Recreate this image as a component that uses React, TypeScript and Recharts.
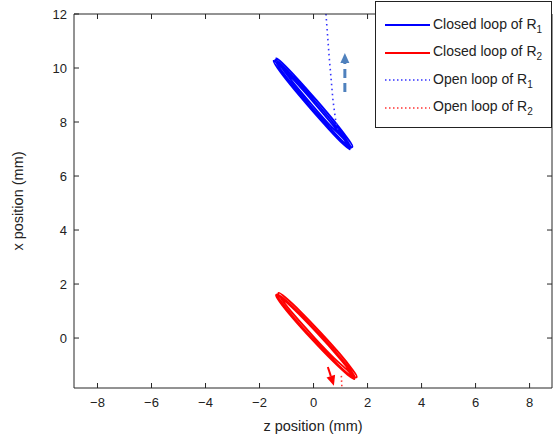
import React from 'react';
import { ComposedChart, Line, XAxis, YAxis } from 'recharts';

type Pt = { z: number; x: number };

const zTicks = [-8, -6, -4, -2, 0, 2, 4, 6, 8];
const xTicks = [0, 2, 4, 6, 8, 10, 12];
const zDomain: [number, number] = [-8.87, 8.83];
const xDomain: [number, number] = [-1.85, 12];

// closed loop, R1 (blue, solid) - three narrow passes
const closedR1: Pt[] = [
  { z: 1.40, x: 7.02 }, { z: 1.26, x: 7.28 }, { z: 0.78, x: 7.91 }, { z: 0.08, x: 8.74 },
  { z: -0.64, x: 9.55 }, { z: -1.19, x: 10.12 }, { z: -1.42, x: 10.3 }, { z: -1.28, x: 10.04 },
  { z: -0.8, x: 9.41 }, { z: -0.1, x: 8.58 }, { z: 0.62, x: 7.77 }, { z: 1.17, x: 7.2 },
  { z: 1.44, x: 7.08 }, { z: 1.3, x: 7.34 }, { z: 0.82, x: 7.97 }, { z: 0.12, x: 8.8 },
  { z: -0.6, x: 9.61 }, { z: -1.15, x: 10.18 }, { z: -1.38, x: 10.36 }, { z: -1.24, x: 10.1 },
  { z: -0.76, x: 9.47 }, { z: -0.06, x: 8.64 }, { z: 0.66, x: 7.83 }, { z: 1.21, x: 7.26 },
  { z: 1.34, x: 6.99 }, { z: 1.2, x: 7.25 }, { z: 0.72, x: 7.88 }, { z: 0.02, x: 8.71 },
  { z: -0.7, x: 9.52 }, { z: -1.25, x: 10.09 }, { z: -1.48, x: 10.27 }, { z: -1.34, x: 10.01 },
  { z: -0.86, x: 9.38 }, { z: -0.16, x: 8.55 }, { z: 0.56, x: 7.74 }, { z: 1.11, x: 7.17 },
  { z: 1.34, x: 6.99 },
];

// closed loop, R2 (red, solid)
const closedR2: Pt[] = [
  { z: 1.55, x: -1.5 }, { z: 1.41, x: -1.24 }, { z: 0.92, x: -0.63 }, { z: 0.21, x: 0.16 },
  { z: -0.53, x: 0.93 }, { z: -1.1, x: 1.46 }, { z: -1.35, x: 1.62 }, { z: -1.21, x: 1.36 },
  { z: -0.72, x: 0.75 }, { z: -0.01, x: -0.04 }, { z: 0.73, x: -0.81 }, { z: 1.3, x: -1.34 },
  { z: 1.6, x: -1.45 }, { z: 1.46, x: -1.19 }, { z: 0.97, x: -0.58 }, { z: 0.26, x: 0.21 },
  { z: -0.48, x: 0.98 }, { z: -1.05, x: 1.51 }, { z: -1.3, x: 1.67 }, { z: -1.16, x: 1.41 },
  { z: -0.67, x: 0.8 }, { z: 0.04, x: 0.01 }, { z: 0.78, x: -0.76 }, { z: 1.35, x: -1.29 },
  { z: 1.51, x: -1.52 }, { z: 1.37, x: -1.26 }, { z: 0.88, x: -0.65 }, { z: 0.17, x: 0.14 },
  { z: -0.57, x: 0.91 }, { z: -1.14, x: 1.44 }, { z: -1.39, x: 1.6 }, { z: -1.25, x: 1.34 },
  { z: -0.76, x: 0.73 }, { z: -0.05, x: -0.06 }, { z: 0.69, x: -0.83 }, { z: 1.26, x: -1.36 },
  { z: 1.51, x: -1.52 },
];

// open loop, R1 (blue, dotted)
const openR1: Pt[] = [
  { z: 0.46, x: 12.0 }, { z: 0.52, x: 11.2 }, { z: 0.58, x: 10.4 }, { z: 0.65, x: 9.6 },
  { z: 0.72, x: 8.8 }, { z: 0.82, x: 8.05 }, { z: 0.9, x: 7.7 },
];

// open loop, R2 (red, dotted)
const openR2: Pt[] = [
  { z: 1.03, x: -1.4 }, { z: 1.05, x: -1.85 },
];

// direction arrows
const arrowR1: Pt[] = [{ z: 1.16, x: 9.11 }, { z: 1.16, x: 10.19 }];
const arrowR2: Pt[] = [{ z: 0.53, x: -1.07 }, { z: 0.64, x: -1.41 }];

const legendItems = [
  { label: 'Closed loop of R', sub: '1', color: '#0000ff', dash: undefined },
  { label: 'Closed loop of R', sub: '2', color: '#ff0000', dash: undefined },
  { label: 'Open loop of R', sub: '1', color: '#3333ff', dash: '1.5 2.5' },
  { label: 'Open loop of R', sub: '2', color: '#ff3333', dash: '1.5 2.5' },
];

const FONT = '"Liberation Sans", Arial, sans-serif';
const AXIS = '#262626';

const fmt = (v: number) => (v < 0 ? `\u2212${Math.abs(v)}` : `${v}`);

function BottomTick({ x, y, payload }: any) {
  return (
    <g>
      <line x1={x} y1={y} x2={x} y2={y - 5} stroke={AXIS} />
      <text x={x} y={y + 19} textAnchor="middle" fontSize={13} fill="#222" fontFamily={FONT}>
        {fmt(payload.value)}
      </text>
    </g>
  );
}

function TopTick({ x, y }: any) {
  return <line x1={x} y1={y} x2={x} y2={y + 5} stroke={AXIS} />;
}

function LeftTick({ x, y, payload }: any) {
  return (
    <g>
      <line x1={x} y1={y} x2={x + 5} y2={y} stroke={AXIS} />
      <text x={x - 7} y={y + 5} textAnchor="end" fontSize={13} fill="#222" fontFamily={FONT}>
        {fmt(payload.value)}
      </text>
    </g>
  );
}

function RightTick({ x, y }: any) {
  return <line x1={x} y1={y} x2={x - 5} y2={y} stroke={AXIS} />;
}

function XTitle({ viewBox }: any) {
  const { x, y, width, height } = viewBox;
  return (
    <text x={x + width / 2} y={y + height - 4} textAnchor="middle" fontSize={14.5} fill="#222" fontFamily={FONT}>
      z position (mm)
    </text>
  );
}

function YTitle({ viewBox }: any) {
  const { x, y, height } = viewBox;
  const cx = x + 23;
  const cy = y + height / 2;
  return (
    <text x={cx} y={cy} transform={`rotate(-90 ${cx} ${cy})`} textAnchor="middle" fontSize={14.5} fill="#222" fontFamily={FONT}>
      x position (mm)
    </text>
  );
}

// draws a filled head on the last point of an arrow series
function arrowHead(pts: Pt[], color: string) {
  return (props: any) => {
    const { cx, cy, index } = props;
    if (index !== pts.length - 1) return <g key={`a-${index}`} />;
    const a = pts[index - 1];
    const b = pts[index];
    const dx = b.z - a.z;
    const dy = -(b.x - a.x);
    const len = Math.hypot(dx, dy) || 1;
    const ux = dx / len;
    const uy = dy / len;
    const tip = [cx + ux * 10, cy + uy * 10];
    const l = [cx - uy * 4.5, cy + ux * 4.5];
    const r = [cx + uy * 4.5, cy - ux * 4.5];
    return <polygon key={`a-${index}`} points={`${tip} ${l} ${r}`} fill={color} stroke="none" />;
  };
}

function LegendBox() {
  return (
    <div
      style={{
        position: 'absolute',
        left: 375,
        top: 1,
        width: 175,
        height: 125,
        border: '1px solid #222',
        background: '#fff',
        fontFamily: FONT,
        fontSize: 14,
        color: '#222',
      }}
    >
      {legendItems.map((it, i) => (
        <div key={i} style={{ position: 'absolute', left: 8, top: 13 + i * 27.5, height: 20, display: 'flex', alignItems: 'center' }}>
          <svg width={47} height={6} style={{ display: 'block' }}>
            <line x1={1} y1={3} x2={46} y2={3} stroke={it.color} strokeWidth={it.dash ? 1.5 : 2} strokeDasharray={it.dash} />
          </svg>
          <span style={{ marginLeft: 2, whiteSpace: 'nowrap' }}>
            {it.label}
            <sub style={{ fontSize: 10 }}>{it.sub}</sub>
          </span>
        </div>
      ))}
    </div>
  );
}

export default function App() {
  return (
    <div style={{ position: 'absolute', left: 0, top: 0, width: 553, height: 435, background: '#fff' }}>
      <ComposedChart width={553} height={435} margin={{ top: 13, right: 0, bottom: 0, left: 0 }}>
        <XAxis
          dataKey="z"
          type="number"
          domain={zDomain}
          ticks={zTicks}
          allowDataOverflow
          interval={0}
          height={47}
          tickSize={0}
          tickMargin={0}
          tickLine={false}
          tick={<BottomTick />}
          axisLine={{ stroke: AXIS }}
          label={<XTitle />}
        />
        <XAxis
          xAxisId="top"
          orientation="top"
          dataKey="z"
          type="number"
          domain={zDomain}
          ticks={zTicks}
          allowDataOverflow
          interval={0}
          height={1}
          tickSize={0}
          tickMargin={0}
          tickLine={false}
          tick={<TopTick />}
          axisLine={{ stroke: AXIS }}
        />
        <YAxis
          type="number"
          domain={xDomain}
          ticks={xTicks}
          allowDataOverflow
          interval={0}
          width={74}
          tickSize={0}
          tickMargin={0}
          tickLine={false}
          tick={<LeftTick />}
          axisLine={{ stroke: AXIS }}
          label={<YTitle />}
        />
        <YAxis
          yAxisId="right"
          orientation="right"
          type="number"
          domain={xDomain}
          ticks={xTicks}
          allowDataOverflow
          interval={0}
          width={1}
          tickSize={0}
          tickMargin={0}
          tickLine={false}
          tick={<RightTick />}
          axisLine={{ stroke: AXIS }}
        />
        <Line data={closedR1} type="natural" dataKey="x" stroke="#0000ff" strokeWidth={1.8} strokeLinejoin="round" dot={false} isAnimationActive={false} />
        <Line data={closedR2} type="natural" dataKey="x" stroke="#ff0000" strokeWidth={1.8} strokeLinejoin="round" dot={false} isAnimationActive={false} />
        <Line data={openR1} dataKey="x" stroke="#3333ff" strokeWidth={1.6} strokeDasharray="1.5 3.5" dot={false} isAnimationActive={false} />
        <Line data={openR2} dataKey="x" stroke="#ff3333" strokeWidth={1.6} strokeDasharray="1.5 3" dot={false} isAnimationActive={false} />
        <Line data={arrowR1} dataKey="x" stroke="#4f81bd" strokeWidth={3} strokeDasharray="9 5" dot={arrowHead(arrowR1, '#4f81bd')} isAnimationActive={false} />
        <Line data={arrowR2} dataKey="x" stroke="#ff0000" strokeWidth={2} dot={arrowHead(arrowR2, '#ff0000')} isAnimationActive={false} />
        {/* invisible series so the mirrored top/right axes get drawn */}
        <Line data={openR2} xAxisId="top" yAxisId="right" dataKey="x" stroke="none" dot={false} legendType="none" isAnimationActive={false} />
      </ComposedChart>
      <LegendBox />
    </div>
  );
}
